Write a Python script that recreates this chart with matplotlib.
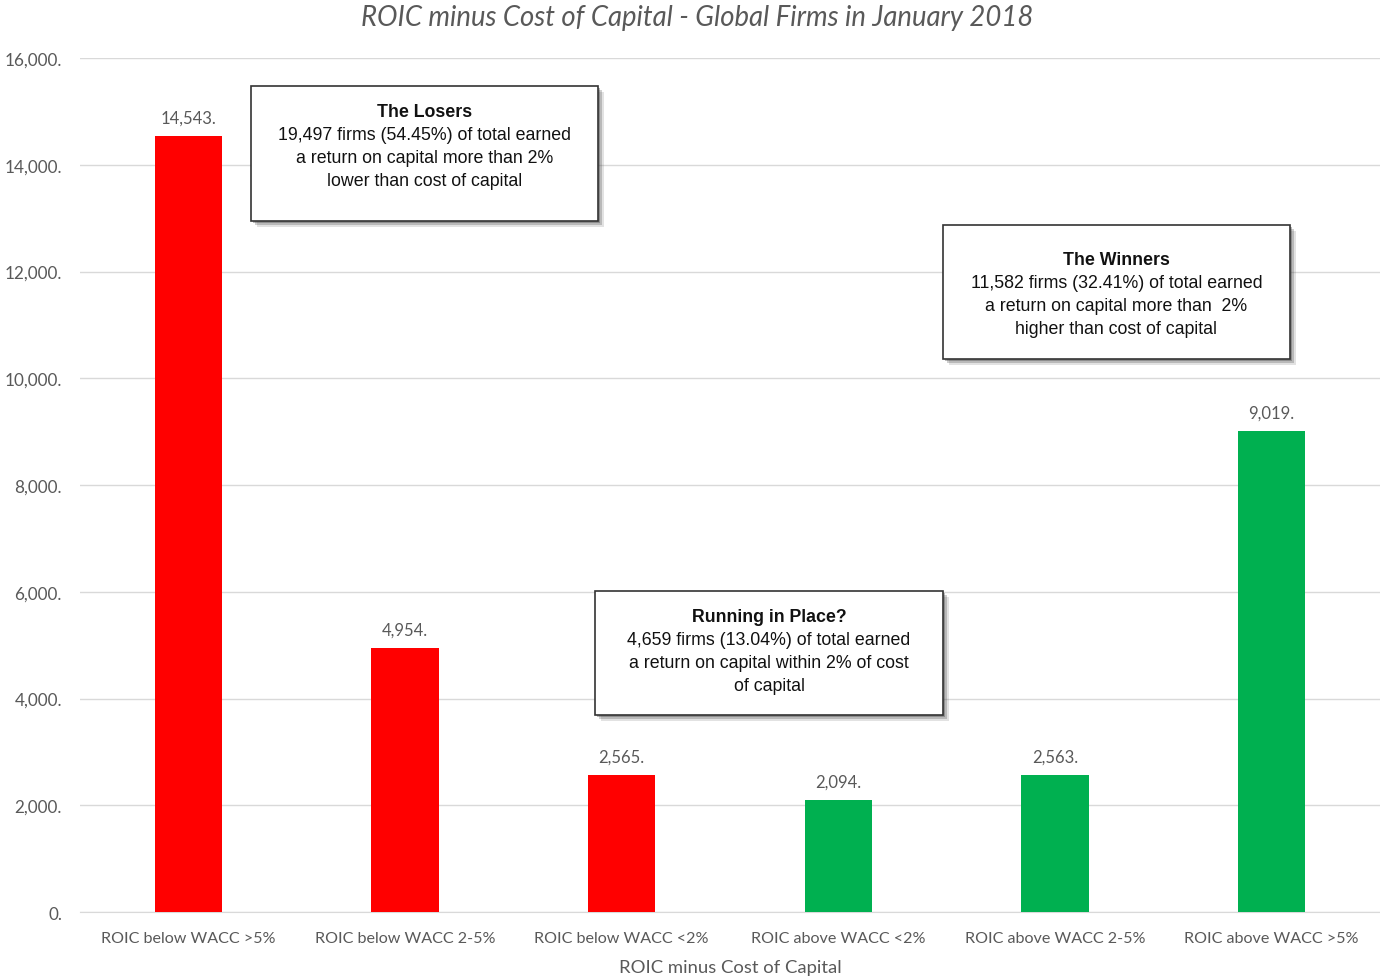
import matplotlib
matplotlib.use('Agg')
import matplotlib.pyplot as plt
from matplotlib.patches import Rectangle
from matplotlib.ticker import FuncFormatter

# Data
categories = ['ROIC below WACC >5%', 'ROIC below WACC 2-5%', 'ROIC below WACC <2%',
              'ROIC above WACC <2%', 'ROIC above WACC 2-5%', 'ROIC above WACC >5%']
firm_counts = [14543, 4954, 2565, 2094, 2563, 9019]
bar_colors = ['#FF0000', '#FF0000', '#FF0000', '#00B050', '#00B050', '#00B050']

box_titles = ['The Losers', 'Running in Place?', 'The Winners']
box_texts = [
    ['19,497 firms (54.45%) of total earned', 'a return on capital more than 2%', 'lower than cost of capital'],
    ['4,659 firms (13.04%) of total earned', 'a return on capital within 2% of cost', 'of capital'],
    ['11,582 firms (32.41%) of total earned', 'a return on capital more than  2%', 'higher than cost of capital'],
]

grey = '#595959'
label_font = 'Lato'
box_font = 'Liberation Sans'

fig = plt.figure(figsize=(13.8, 9.79), dpi=100)
ax = fig.add_axes([0.058, 0.0674, 0.942, 0.8723])

x = range(len(categories))
bars = ax.bar(x, firm_counts, width=0.31, color=bar_colors, zorder=3)

for b, v in zip(bars, firm_counts):
    ax.annotate(f'{v:,}.', (b.get_x() + b.get_width() / 2, v), xytext=(0, 7.5),
                textcoords='offset points', ha='center', va='bottom',
                fontsize=12, color=grey, family=label_font)

ax.set_xlim(-0.5, len(categories) - 0.5)
ax.set_ylim(0, 16000)
ax.set_yticks(range(0, 16001, 2000))
ax.yaxis.set_major_formatter(FuncFormatter(lambda v, p: f'{int(v):,}.'))
ax.set_xticks(list(x))
ax.set_xticklabels(categories)
ax.grid(axis='y', color='#D9D9D9', linewidth=1, zorder=0)
for s in ['top', 'right', 'left']:
    ax.spines[s].set_visible(False)
ax.spines['bottom'].set_color('#D9D9D9')
ax.tick_params(axis='y', length=0, colors=grey, labelsize=12.3, pad=13)
ax.tick_params(axis='x', length=0, colors=grey, labelsize=11.6, pad=14)
for lab in ax.get_xticklabels() + ax.get_yticklabels():
    lab.set_family(label_font)

ax.set_xlabel('ROIC minus Cost of Capital', fontsize=13.3, color=grey, family=label_font, labelpad=10)
fig.text(0.505, 0.982, 'ROIC minus Cost of Capital - Global Firms in January 2018',
         ha='center', va='center', fontsize=19.8, color=grey, style='italic', family=label_font)

# Annotation boxes (figure fractions) and title offset from box top in pixels
box_pos = [(0.1819, 0.7732, 0.2514, 0.1379),
           (0.4312, 0.2686, 0.2522, 0.1267),
           (0.6833, 0.6323, 0.2514, 0.1369)]
title_off = [25, 25, 35]
line_step = 23 / 979
for (bx, by, bw, bh), toff, title, body in zip(box_pos, title_off, box_titles, box_texts):
    for k, a in enumerate([0.35, 0.25, 0.15]):
        off = 0.0015 * (k + 1)
        fig.patches.append(Rectangle((bx + off, by - off * 1.4), bw, bh, transform=fig.transFigure,
                                     facecolor='#404040', edgecolor='none', alpha=a, zorder=4))
    fig.patches.append(Rectangle((bx, by), bw, bh, transform=fig.transFigure,
                                 facecolor='white', edgecolor='#333333', linewidth=1.2, zorder=5))
    cx = bx + bw / 2
    ty = by + bh - toff / 979
    fig.text(cx, ty, title, ha='center', va='center', fontsize=12.8, fontweight='bold',
             color='#111111', family=box_font, zorder=6)
    for i, line in enumerate(body):
        fig.text(cx, ty - line_step * (i + 1), line, ha='center', va='center', fontsize=12.8,
                 color='#111111', family=box_font, zorder=6)

fig.savefig('out.png', dpi=100)
